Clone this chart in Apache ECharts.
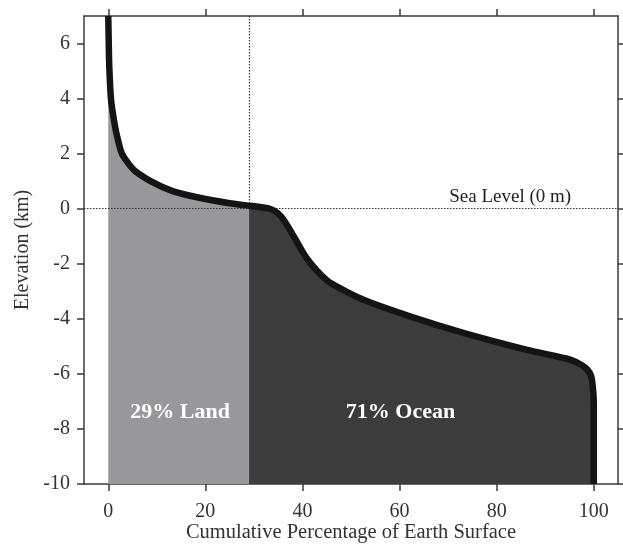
<!DOCTYPE html>
<html>
<head>
<meta charset="utf-8">
<script src="https://cdn.jsdelivr.net/npm/echarts@6/dist/echarts.min.js"></script>
<style>
  html, body { margin: 0; padding: 0; background: #fff; }
  #chart { width: 623px; height: 546px; }
</style>
</head>
<body>
<div id="chart"></div>
<script>
// hypsometric curve (x = cumulative %, y = km)
const landCurve = [
    [0, 7], [0.1, 6], [0.2, 5.2], [0.55, 4.0], [1.0, 3.4], [1.65, 2.76],
    [2.8, 2.0], [5.2, 1.42], [8.7, 1.0], [13.4, 0.63], [19, 0.39],
    [25, 0.2], [29, 0.11]
];
const oceanCurve = [
    [29, 0.11], [31, 0.07], [33.4, -0.01], [34.8, -0.15], [36.1, -0.4],
    [38.2, -1.0], [40.6, -1.73], [43, -2.25], [45.8, -2.7], [52.6, -3.31],
    [62.3, -3.92], [73.3, -4.52], [86.3, -5.13], [92, -5.35], [95.3, -5.49],
    [97.5, -5.68], [98.7, -5.85], [99.4, -6.05], [99.7, -6.3], [100, -7], [100, -10]
];
const xTicks = [0, 20, 40, 60, 80, 100];
const yTicks = [-10, -8, -6, -4, -2, 0, 2, 4, 6];
const landShare = 29;
const seaLevel = 0;
const regionLabels = [
    { name: '29% Land', coord: [14.8, -7.38] },
    { name: '71% Ocean', coord: [60.2, -7.38] }
];
const seaLevelLabel = { name: 'Sea Level (0 m)', coord: [82.8, 0.44] };

const serif = '"Liberation Serif", "DejaVu Serif", serif';
const frame = { show: true, onZero: false, lineStyle: { color: '#3a3a3a', width: 1.5 } };

function xAxisOf(pos, showLabels) {
    return {
        type: 'value', position: pos, min: -5, max: 105,
        axisLine: frame,
        axisTick: { show: true, length: 7, customValues: xTicks, lineStyle: { color: '#3a3a3a', width: 1.5 } },
        axisLabel: { show: showLabels, customValues: xTicks, margin: 18, color: '#333', fontFamily: serif, fontSize: 20 },
        splitLine: { show: false }
    };
}
function yAxisOf(pos, showLabels) {
    return {
        type: 'value', position: pos, min: -10, max: 7,
        axisLine: frame,
        axisTick: { show: true, length: 7, customValues: yTicks, lineStyle: { color: '#3a3a3a', width: 1.5 } },
        axisLabel: { show: showLabels, customValues: yTicks, margin: 14, color: '#333', fontFamily: serif, fontSize: 20 },
        splitLine: { show: false }
    };
}

const chart = echarts.init(document.getElementById('chart'), null, { renderer: 'canvas' });

const bottomX = xAxisOf('bottom', true);
bottomX.name = 'Cumulative Percentage of Earth Surface';
bottomX.nameLocation = 'middle';
bottomX.nameGap = 38;
bottomX.nameMoveOverlap = false;
bottomX.nameTextStyle = { color: '#333', fontFamily: serif, fontSize: 20.5 };
const leftY = yAxisOf('left', true);
leftY.name = 'Elevation (km)';
leftY.nameLocation = 'middle';
leftY.nameGap = 50;
leftY.nameTextStyle = { color: '#333', fontFamily: serif, fontSize: 20 };

const option = {
    animation: false,
    backgroundColor: '#fff',
    grid: { left: 84, right: 5, top: 16, bottom: 62, containLabel: false, outerBoundsMode: 'none' },
    xAxis: [bottomX, xAxisOf('top', false)],
    yAxis: [leftY, yAxisOf('right', false)],
    series: [
        {
            name: 'land', type: 'line', data: landCurve, symbol: 'none',
            smooth: 0.2, z: 2,
            lineStyle: { width: 0 },
            areaStyle: { color: '#98989c', opacity: 1, origin: 'start' },
            markPoint: {
                symbol: 'circle', symbolSize: 0, silent: true,
                label: { show: true, position: 'inside', formatter: '{b}', color: '#fff', fontFamily: serif, fontSize: 22, fontWeight: 'bold' },
                data: regionLabels
            }
        },
        {
            name: 'ocean', type: 'line', data: oceanCurve, symbol: 'none',
            smooth: 0.2, z: 3,
            lineStyle: { width: 0 },
            areaStyle: { color: '#3c3c3c', opacity: 1, origin: 'start' },
            markLine: {
                symbol: 'none', silent: true, label: { show: false },
                lineStyle: { color: '#333', type: [1.5, 1.5], width: 1.2 },
                data: [
                    { yAxis: seaLevel },
                    [{ coord: [landShare, 7] }, { coord: [landShare, 0.11] }]
                ]
            },
            markPoint: {
                symbol: 'circle', symbolSize: 0, silent: true,
                label: { show: true, position: 'inside', formatter: '{b}', color: '#222', fontFamily: serif, fontSize: 19 },
                data: [seaLevelLabel]
            }
        },
        {
            name: 'curve', type: 'line', data: landCurve.concat(oceanCurve.slice(1)), symbol: 'none',
            smooth: 0.2, z: 5,
            lineStyle: { color: '#141414', width: 6.5, cap: 'butt', join: 'round' }
        }
    ]
};
chart.setOption(option);
</script>
</body>
</html>
